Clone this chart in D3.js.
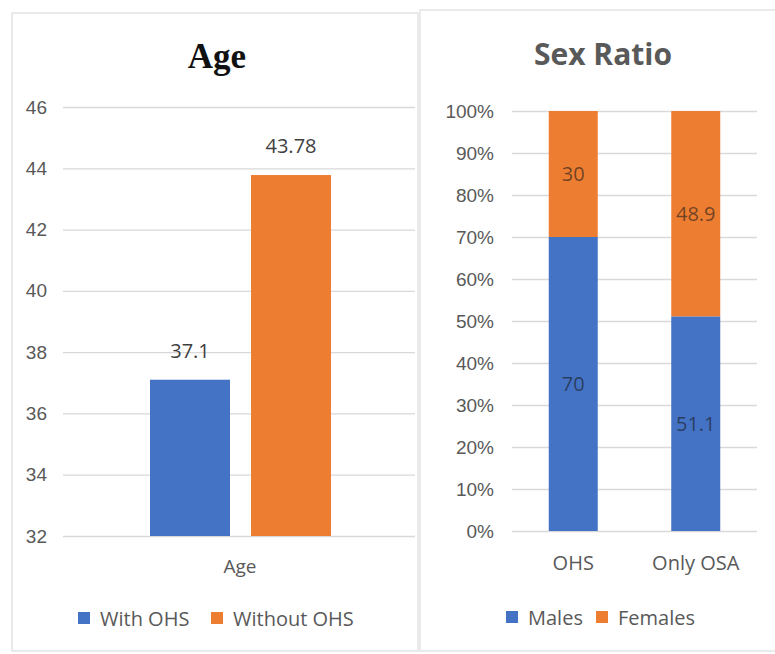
<!DOCTYPE html>
<html><head><meta charset="utf-8">
<script src="https://cdn.jsdelivr.net/npm/d3@7"></script>
<style>body{margin:0;background:#fff;} svg{display:block;font-family:"Open Sans","Noto Sans",sans-serif;}</style>
</head><body><svg id="c" width="775" height="654"></svg>
<script>
const ageCategories = ["Age"];
const ageSeries = ["With OHS", "Without OHS"];
const ageValues = [37.1, 43.78];
const ageTicks = [32, 34, 36, 38, 40, 42, 44, 46];

const sexCategories = ["OHS", "Only OSA"];
const sexSeries = ["Males", "Females"];
const malesValues = [70, 51.1];
const femalesValues = [30, 48.9];
const sexTicks = [0, 10, 20, 30, 40, 50, 60, 70, 80, 90, 100];

const colors = ["#4472C4", "#ED7D31"];
const textCol = "#595959";
const gridCol = "#d9d9d9";

const svg = d3.select("#c");

// panel borders
svg.append("rect").attr("x",12).attr("y",13).attr("width",406).attr("height",638).attr("fill","none").attr("stroke","#e3e3e3").attr("stroke-width",1.5);
svg.append("rect").attr("x",420).attr("y",10).attr("width",360).attr("height",641).attr("fill","#fff").attr("stroke","#e3e3e3").attr("stroke-width",1.5);

// ---------- Age chart ----------
{
  const y = d3.scaleLinear().domain([32,46]).range([536,107]);
  const x0 = d3.scaleBand().domain(ageCategories).range([63,415]);
  const x1 = d3.scaleBand().domain(ageSeries).range([150-x0("Age"), 331-x0("Age")]).paddingInner(0.208);
  const g = svg.append("g");
  const ax = d3.axisLeft(y).tickValues(ageTicks).tickSize(-(415-63)).tickFormat(d3.format("d"));
  const ag = g.append("g").attr("transform","translate(63,0)").call(ax);
  ag.select(".domain").remove();
  ag.selectAll(".tick line").attr("stroke",gridCol).attr("stroke-width",1.3);
  ag.selectAll(".tick text").attr("x",-16).attr("fill",textCol).style("font-size","19px");

  const bars = g.selectAll(".bar").data(ageValues).enter();
  bars.append("rect")
    .attr("x",(d,i)=>x0("Age")+x1(ageSeries[i]))
    .attr("width",x1.bandwidth())
    .attr("y",d=>y(d)).attr("height",d=>y(32)-y(d))
    .attr("fill",(d,i)=>colors[i]);
  bars.append("text")
    .attr("x",(d,i)=>x0("Age")+x1(ageSeries[i])+x1.bandwidth()/2)
    .attr("y",d=>y(d)-22)
    .attr("text-anchor","middle").attr("fill","#404040").style("font-size","20px")
    .text(d=>d);

  g.append("text").attr("x",240).attr("y",573).attr("text-anchor","middle")
    .attr("fill",textCol).style("font-size","19px").text(ageCategories[0]);

  g.append("text").attr("x",217).attr("y",68).attr("text-anchor","middle")
    .style("font-family","'Liberation Serif','DejaVu Serif',serif").style("font-weight","bold")
    .style("font-size","35px").attr("fill","#111").text("Age");

  const legX = [78, 211];
  ageSeries.forEach((s,i)=>{
    g.append("rect").attr("x",legX[i]).attr("y",612).attr("width",12).attr("height",12).attr("fill",colors[i]);
    g.append("text").attr("x",legX[i]+22).attr("y",626).attr("fill",textCol).style("font-size","20px").text(s);
  });
}

// ---------- Sex ratio chart ----------
{
  const y = d3.scaleLinear().domain([0,100]).range([531,111]);
  const x = d3.scaleBand().domain(sexCategories).range([512,757]).paddingInner(0.6).paddingOuter(0.3);
  const g = svg.append("g");
  const ax = d3.axisLeft(y).tickValues(sexTicks).tickSize(-(757-512)).tickFormat(d=>d+"%");
  const ag = g.append("g").attr("transform","translate(512,0)").call(ax);
  ag.select(".domain").remove();
  ag.selectAll(".tick line").attr("stroke",gridCol).attr("stroke-width",1.3);
  ag.selectAll(".tick text").attr("x",-18).attr("fill",textCol).style("font-size","19px");

  const stackData = sexCategories.map((c,i)=>({cat:c, Males:malesValues[i], Females:femalesValues[i]}));
  const stack = d3.stack().keys(sexSeries)(stackData);
  stack.forEach((layer,li)=>{
    layer.forEach(seg=>{
      g.append("rect").attr("x",x(seg.data.cat)).attr("width",x.bandwidth())
        .attr("y",y(seg[1])).attr("height",y(seg[0])-y(seg[1])).attr("fill",colors[li]);
      g.append("text").attr("x",x(seg.data.cat)+x.bandwidth()/2)
        .attr("y",(y(seg[0])+y(seg[1]))/2+7).attr("text-anchor","middle")
        .attr("fill","#1a1a1a").attr("fill-opacity",0.6).style("font-size","20px")
        .text(+(seg[1]-seg[0]).toFixed(1));
    });
  });

  sexCategories.forEach(c=>{
    g.append("text").attr("x",x(c)+x.bandwidth()/2).attr("y",570).attr("text-anchor","middle")
      .attr("fill",textCol).style("font-size","20px").text(c);
  });

  g.append("text").attr("x",603).attr("y",65).attr("text-anchor","middle")
    .style("font-weight","bold").style("font-size","30px").attr("fill","#595959").text("Sex Ratio");

  const legX = [506, 596];
  sexSeries.forEach((s,i)=>{
    g.append("rect").attr("x",legX[i]).attr("y",611).attr("width",12).attr("height",12).attr("fill",colors[i]);
    g.append("text").attr("x",legX[i]+22).attr("y",625).attr("fill",textCol).style("font-size","20px").text(s);
  });
}
</script></body></html>
